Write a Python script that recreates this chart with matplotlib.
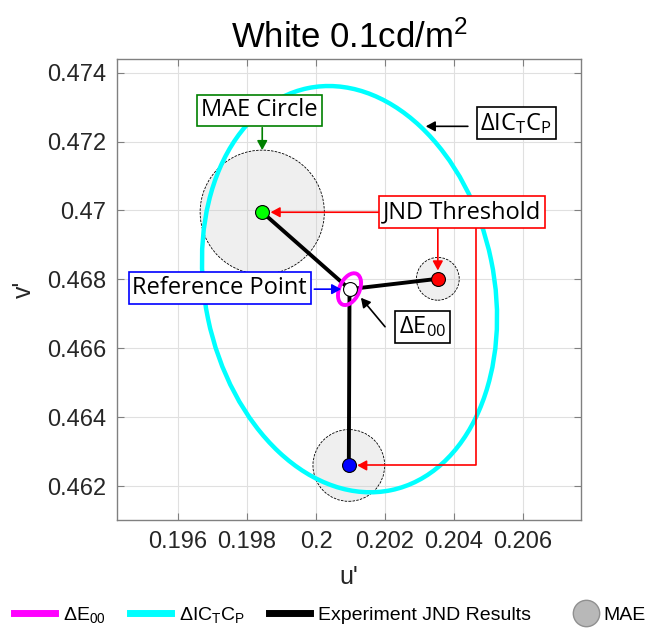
import matplotlib
matplotlib.use("Agg")
import matplotlib.pyplot as plt
from matplotlib.patches import Ellipse, Circle
from matplotlib.lines import Line2D
from matplotlib.legend_handler import HandlerLine2D

plt.rcParams['font.family'] = ['Liberation Sans', 'DejaVu Sans']
plt.rcParams['mathtext.fontset'] = 'custom'
plt.rcParams['mathtext.rm'] = 'Open Sans'
plt.rcParams['mathtext.it'] = 'Open Sans'
plt.rcParams['mathtext.sf'] = 'Liberation Sans'

# reference white point (u', v')
REF_U, REF_V = 0.20097, 0.46772

# experiment JND results: green, red, blue
JND_U = [0.19844, 0.20353, 0.20095]
JND_V = [0.46995, 0.46802, 0.46261]
JND_COL = ['#00ff00', '#ff0000', '#0000ff']
MAE_R = [0.0018, 0.00062, 0.00104]

# threshold ellipses (semi-major, semi-minor, angle deg)
DE00 = (0.00049, 0.00029, 65)
ICTCP = (0.00595, 0.00419, 101.7)

XTICKS = [0.196, 0.198, 0.2, 0.202, 0.204, 0.206]
YTICKS = [0.462, 0.464, 0.466, 0.468, 0.47, 0.472, 0.474]

ANNFONT = ['Open Sans', 'DejaVu Sans']


class RightMarker(HandlerLine2D):
    # put the legend marker close to its label
    def create_artists(self, legend, orig_handle, xdescent, ydescent,
                       width, height, fontsize, trans):
        return super().create_artists(legend, orig_handle,
                                      xdescent - width * 0.25, ydescent,
                                      width, height, fontsize, trans)


fig = plt.figure(figsize=(6.54, 6.3), dpi=100)
ax = fig.add_axes([117/654, 1 - 521/630, 464/654, 463/630])

# MAE circles
for u, v, r in zip(JND_U, JND_V, MAE_R):
    ax.add_patch(Circle((u, v), r, facecolor=(0.8, 0.8, 0.8), alpha=0.3,
                        edgecolor='none', zorder=1))
    ax.add_patch(Circle((u, v), r, facecolor='none', edgecolor='black',
                        linestyle=(0, (3, 1.5)), linewidth=0.6, zorder=1.5))

# threshold ellipses
a, b, ang = ICTCP
ax.add_patch(Ellipse((REF_U, REF_V), 2*a, 2*b, angle=ang, fill=False,
                     edgecolor='cyan', linewidth=3.2, zorder=2))
a, b, ang = DE00
ax.add_patch(Ellipse((REF_U, REF_V), 2*a, 2*b, angle=ang, fill=False,
                     edgecolor='magenta', linewidth=2.8, zorder=4))

# experiment result lines
for u, v in zip(JND_U, JND_V):
    ax.plot([REF_U, u], [REF_V, v], color='black', linewidth=2.8, zorder=3)
for u, v, c in zip(JND_U, JND_V, JND_COL):
    ax.plot(u, v, 'o', markersize=10, markerfacecolor=c,
            markeredgecolor='black', markeredgewidth=0.8, zorder=5)
ax.plot(REF_U, REF_V, 'o', markersize=10, markerfacecolor='white',
        markeredgecolor='black', markeredgewidth=0.8, zorder=5)


def box(x, y, s, col):
    ax.text(x, y, s, ha='center', va='center', fontsize=17, family=ANNFONT,
            color='black', zorder=6,
            bbox=dict(boxstyle='square,pad=0.16', facecolor='white',
                      edgecolor=col, linewidth=1.2))


def arrow(x0, y0, x1, y1, col, shrink=0, conn='arc3'):
    ax.annotate('', xy=(x1, y1), xytext=(x0, y0), zorder=5.5,
                arrowprops=dict(arrowstyle='-|>,head_length=0.55,head_width=0.3',
                                color=col, linewidth=1.2, shrinkA=0,
                                shrinkB=shrink, connectionstyle=conn))


# MAE circle label
green = '#008000'
box(0.19836, 0.47290, 'MAE Circle', green)
arrow(JND_U[0], 0.47240, JND_U[0], JND_V[0] + MAE_R[0], green)

# ICtCp label
box(0.20580, 0.47253, r'$\mathrm{\Delta IC_{T}C_{P}}$', 'black')
arrow(0.20440, 0.47244, 0.20318, 0.47244, 'black')

# JND threshold label and arrows
box(0.20424, JND_V[0], 'JND Threshold', 'red')
arrow(0.20275, JND_V[0], JND_U[0], JND_V[0], 'red', shrink=6)
arrow(JND_U[1], 0.46950, JND_U[1], JND_V[1], 'red', shrink=6)
arrow(0.20465, 0.46950, JND_U[2], JND_V[2], 'red', shrink=6,
      conn='angle,angleA=-90,angleB=0,rad=0')

# reference point label
box(0.19721, 0.46776, 'Reference Point', 'blue')
arrow(0.19995, REF_V, REF_U, REF_V, 'blue', shrink=6)

# delta E00 label
box(0.20309, 0.46663, r'$\mathrm{\Delta E_{00}}$', 'black')
arrow(0.20200, 0.46663, 0.20130, 0.46747, 'black')

ax.set_xlim(0.19423, 0.20768)
ax.set_ylim(0.46102, 0.47440)
ax.set_aspect('equal', adjustable='box')
ax.set_xticks(XTICKS)
ax.set_xticklabels(['0.196', '0.198', '0.2', '0.202', '0.204', '0.206'])
ax.set_yticks(YTICKS)
ax.set_yticklabels(['0.462', '0.464', '0.466', '0.468', '0.47', '0.472', '0.474'])
ax.tick_params(direction='in', length=5, width=0.8, labelsize=17,
               top=True, right=True, pad=8,
               colors='#808080', labelcolor='#262626')
ax.grid(True, color='#e0e0e0', linewidth=0.8, zorder=0)
ax.set_axisbelow(True)
for sp in ax.spines.values():
    sp.set_color('#808080')
    sp.set_linewidth(1.0)

ax.set_xlabel("u'", fontsize=18, color='#262626', labelpad=8)
ax.set_ylabel("v'", fontsize=18, color='#262626', labelpad=8)
ax.set_title(r'White 0.1cd/m$^{\mathsf{2}}$', fontsize=25, pad=8)

mae_handle = Line2D([], [], marker='o', linestyle='none', markersize=19,
                    markerfacecolor='#b8b8b8', markeredgecolor='#909090')
handles = [
    Line2D([], [], color='magenta', linewidth=5),
    Line2D([], [], color='cyan', linewidth=5),
    Line2D([], [], color='black', linewidth=5),
    mae_handle,
]
labels = [r'$\mathsf{\Delta E_{00}}$', r'$\mathsf{\Delta IC_{T}C_{P}}$',
          'Experiment JND Results', 'MAE']
fig.legend(handles, labels, loc='lower center', bbox_to_anchor=(0.505, -0.02),
           ncol=4, frameon=False, fontsize=14, handlelength=2.1,
           handletextpad=0.4, columnspacing=1.25,
           handler_map={mae_handle: RightMarker(numpoints=1)})

fig.savefig('out.png', dpi=100)
